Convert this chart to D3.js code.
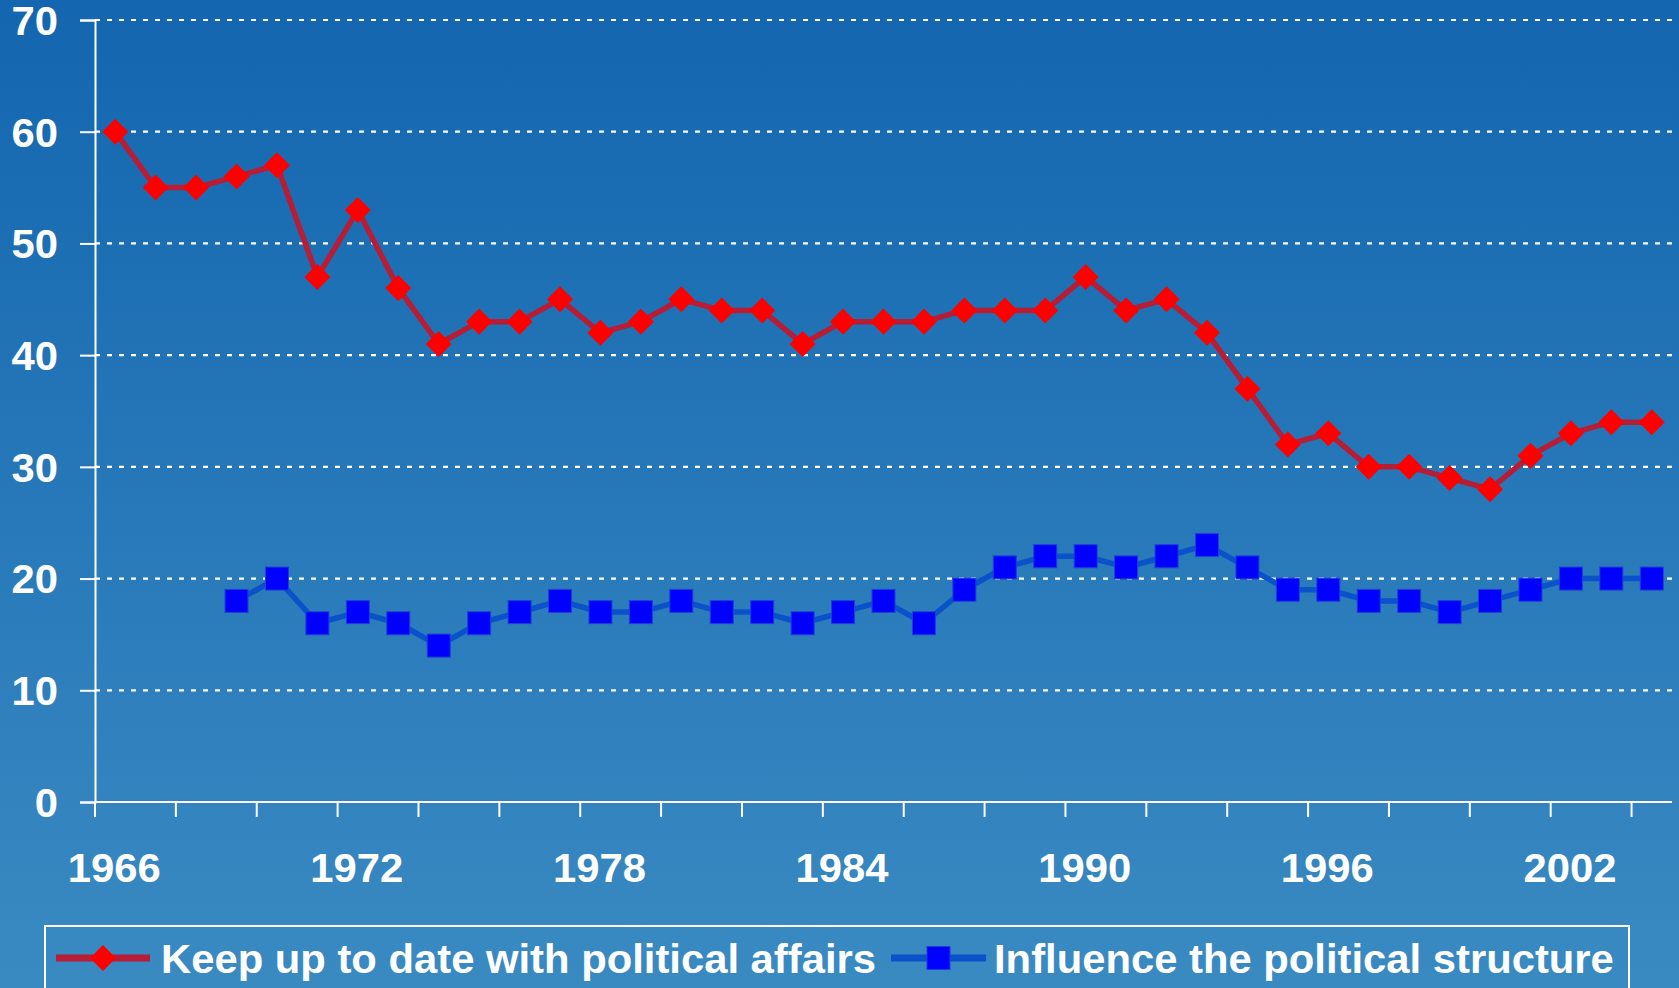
<!DOCTYPE html>
<html>
<head>
<meta charset="utf-8">
<script src="https://cdn.jsdelivr.net/npm/d3@7"></script>
<style>
  html, body { margin: 0; padding: 0; overflow: hidden; }
  svg { display: block; }
  text { font-family: "Liberation Sans", Arial, sans-serif; font-weight: bold; fill: #fff; }
</style>
</head>
<body>
<svg id="chart" width="1679" height="988"></svg>
<script>
// Survey years shown on the category axis
const years = d3.range(1966, 2005);

// Share of respondents (%) per year
const keepUpToDate = [60, 55, 55, 56, 57, 47, 53, 46, 41, 43, 43, 45, 42, 43, 45, 44, 44, 41, 43, 43,
  43, 44, 44, 44, 47, 44, 45, 42, 37, 32, 33, 30, 30, 29, 28, 31, 33, 34, 34];
const influenceStructure = [null, null, null, 18, 20, 16, 17, 16, 14, 16, 17, 18, 17, 17, 18, 17, 17, 16, 17, 18,
  16, 19, 21, 22, 22, 21, 22, 23, 21, 19, 19, 18, 18, 17, 18, 19, 20, 20, 20];

const yTicks = [0, 10, 20, 30, 40, 50, 60, 70];
const xLabelYears = [1966, 1972, 1978, 1984, 1990, 1996, 2002];

const seriesNames = ["Keep up to date with political affairs", "Influence the political structure"];

const W = 1679, H = 988;
const plotLeft = 95, plotRight = 1672, plotTop = 20, plotBottom = 802;
const stretch = 1.045; // slightly widened lettering

const svg = d3.select("#chart");

// Background gradient
const defs = svg.append("defs");
const grad = defs.append("linearGradient").attr("id", "bg")
  .attr("x1", 0).attr("y1", 0).attr("x2", 0).attr("y2", 1);
grad.append("stop").attr("offset", "0%").attr("stop-color", "#1366af");
grad.append("stop").attr("offset", "100%").attr("stop-color", "#3a8ac2");
svg.append("rect").attr("width", W).attr("height", H).attr("fill", "url(#bg)");

const x = d3.scaleBand().domain(years).range([plotLeft, plotRight]).padding(0);
const y = d3.scaleLinear().domain([0, 70]).range([plotBottom, plotTop]);
const cx = d => x(d) + x.bandwidth() / 2;

// Dashed horizontal gridlines
svg.append("g").selectAll("line").data(yTicks.filter(t => t > 0)).join("line")
  .attr("x1", plotLeft).attr("x2", plotRight)
  .attr("y1", d => y(d)).attr("y2", d => y(d))
  .attr("stroke", "#fff").attr("stroke-width", 2.2)
  .attr("stroke-dasharray", "5,7");

// Y axis
const yAxis = svg.append("g").attr("transform", `translate(${plotLeft},0)`)
  .call(d3.axisLeft(y).tickValues(yTicks).tickSize(15).tickPadding(0).tickFormat(d3.format("d")));
yAxis.select(".domain").attr("stroke", "#fff").attr("stroke-width", 2);
yAxis.selectAll(".tick line").attr("stroke", "#fff").attr("stroke-width", 2);
yAxis.selectAll(".tick text").attr("font-size", 40).attr("fill", "#fff")
  .attr("font-family", "'Liberation Sans', Arial, sans-serif").attr("font-weight", "bold")
  .attr("x", 0).attr("dy", "0.36em")
  .attr("transform", `translate(-37,0) scale(${stretch},1)`);

// X axis: line with ticks every two years at category boundaries
svg.append("line").attr("x1", plotLeft).attr("x2", plotRight).attr("y1", plotBottom).attr("y2", plotBottom)
  .attr("stroke", "#fff").attr("stroke-width", 2);
const tickYears = years.filter((d, i) => i % 2 === 0);
svg.append("g").selectAll("line").data(tickYears).join("line")
  .attr("x1", d => x(d)).attr("x2", d => x(d))
  .attr("y1", plotBottom).attr("y2", plotBottom + 15)
  .attr("stroke", "#fff").attr("stroke-width", 2);
svg.append("g").selectAll("text").data(xLabelYears).join("text")
  .attr("transform", d => `translate(${cx(d) - 1},882) scale(${stretch},1)`)
  .attr("text-anchor", "middle").attr("font-size", 40)
  .text(d => d);

// Series
const series = [
  { name: seriesNames[0], values: keepUpToDate, line: "#b81d36", marker: "#ff0000", shape: "diamond" },
  { name: seriesNames[1], values: influenceStructure, line: "#0a52c9", marker: "#0000ff", shape: "square" }
];

const lineGen = d3.line()
  .defined(d => d.v !== null)
  .x(d => cx(d.year)).y(d => y(d.v));

function drawMarker(g, shape, color) {
  if (shape === "diamond") {
    g.append("rect").attr("x", -9.2).attr("y", -9.2).attr("width", 18.4).attr("height", 18.4)
      .attr("transform", "rotate(45)").attr("fill", color);
  } else {
    g.append("rect").attr("x", -11.5).attr("y", -11.5).attr("width", 23).attr("height", 23)
      .attr("fill", color).attr("stroke", "#1e3fd6").attr("stroke-width", 1);
  }
}

series.forEach(s => {
  const pts = years.map((yr, i) => ({ year: yr, v: s.values[i] }));
  svg.append("path").datum(pts)
    .attr("d", lineGen).attr("fill", "none")
    .attr("stroke", s.line).attr("stroke-width", 5.5).attr("stroke-linejoin", "round");
  svg.append("g").selectAll("g").data(pts.filter(d => d.v !== null)).join("g")
    .attr("transform", d => `translate(${cx(d.year)},${y(d.v)})`)
    .each(function () { drawMarker(d3.select(this), s.shape, s.marker); });
});

// Legend
const legend = svg.append("g");
legend.append("rect").attr("x", 45).attr("y", 926).attr("width", 1584).attr("height", 100)
  .attr("fill", "none").attr("stroke", "#fff").attr("stroke-width", 2);

const legendItems = [
  { s: series[0], x0: 56, x1: 150, tx: 161 },
  { s: series[1], x0: 891, x1: 986, tx: 994 }
];
legendItems.forEach(it => {
  const g = legend.append("g");
  g.append("line").attr("x1", it.x0).attr("x2", it.x1).attr("y1", 958).attr("y2", 958)
    .attr("stroke", it.s.line).attr("stroke-width", 7);
  const m = g.append("g").attr("transform", `translate(${(it.x0 + it.x1) / 2},958)`);
  drawMarker(m, it.s.shape, it.s.marker);
  g.append("text").attr("transform", `translate(${it.tx},973) scale(${stretch},1)`)
    .attr("font-size", 40).text(it.s.name);
});
</script>
</body>
</html>
